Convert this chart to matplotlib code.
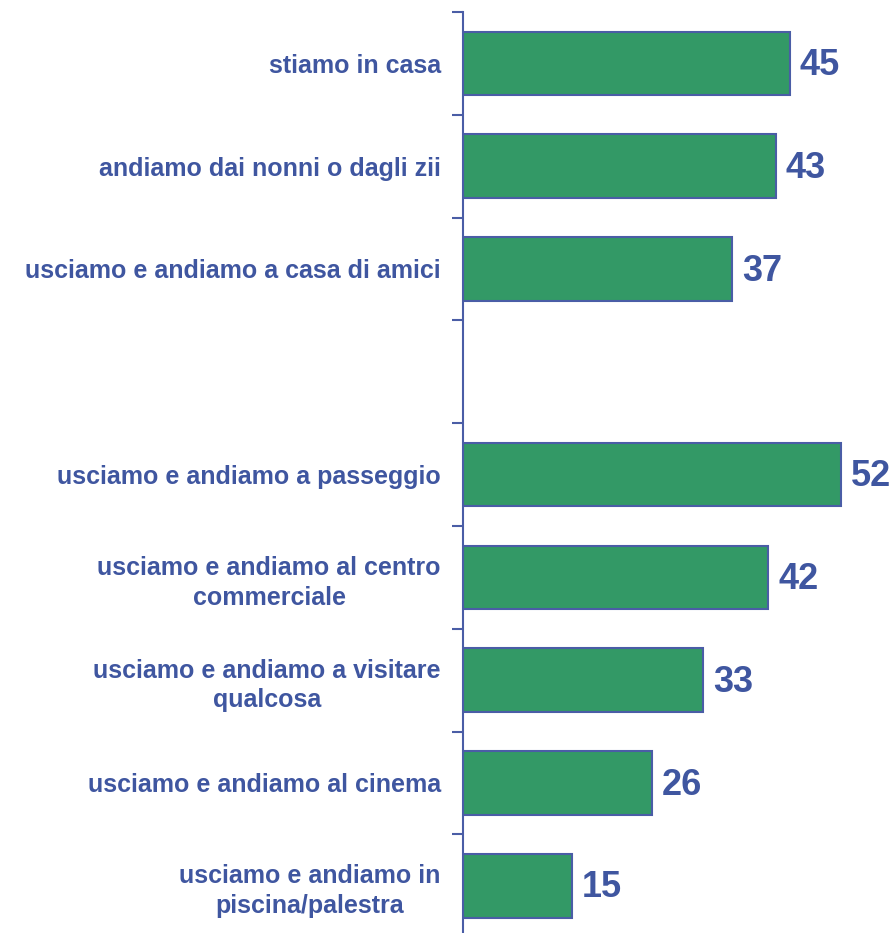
import matplotlib
matplotlib.use("Agg")
import matplotlib.pyplot as plt
import numpy as np

categories = [
    "stiamo in casa",
    "andiamo dai nonni o dagli zii",
    "usciamo e andiamo a casa di amici",
    "",
    "usciamo e andiamo a passeggio",
    "usciamo e andiamo al centro\ncommerciale",
    "usciamo e andiamo a visitare\nqualcosa",
    "usciamo e andiamo al cinema",
    "usciamo e andiamo in\npiscina/palestra",
]
values = [45, 43, 37, None, 52, 42, 33, 26, 15]

text_color = "#3F56A0"
bar_color = "#339966"
edge_color = "#4A5DA6"

plt.rcParams['font.family'] = ['Liberation Sans', 'DejaVu Sans']

fig = plt.figure(figsize=(8.94, 9.33), dpi=100)
H = 933.0
W = 894.0
top_px = 12
slot = 102.8
n = len(categories)
bottom_px = top_px + n * slot
ax = fig.add_axes([463 / W, 1 - bottom_px / H, (W - 463) / W, (bottom_px - top_px) / H])

pos = np.arange(n)
for i, (c, v) in enumerate(zip(categories, values)):
    if v is None:
        continue
    ax.barh(i, v, height=0.62, color=bar_color, edgecolor=edge_color, linewidth=1.5)
    ax.text(v + 1.35, i + 0.02, f"{v}", ha='left', va='center', fontsize=26,
            fontweight='bold', color=text_color)

ax.set_ylim(n - 0.5, -0.5)
ax.set_xlim(0, (W - 463) / 7.27)

ax.set_yticks(np.arange(-0.5, n, 1.0))
ax.set_yticklabels([])
ax.set_yticks(pos, minor=True)
ax.set_yticklabels(categories, minor=True, fontsize=18, fontweight='bold',
                   color=text_color, multialignment='center', linespacing=1.3)
ax.tick_params(axis='y', which='major', length=8, width=1.5, color=edge_color, direction='out')
ax.tick_params(axis='y', which='minor', length=0, pad=16)
ax.set_xticks([])

for s in ['top', 'right', 'bottom']:
    ax.spines[s].set_visible(False)
ax.spines['left'].set_color(edge_color)
ax.spines['left'].set_linewidth(1.5)

fig.savefig("out.png", dpi=100)
